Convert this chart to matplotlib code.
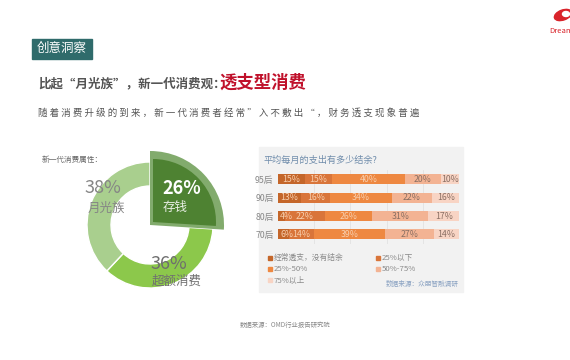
import numpy as np
import matplotlib
matplotlib.use("Agg")
from matplotlib import pyplot as plt
from matplotlib.patches import Wedge, Rectangle, Ellipse

plt.rcParams['font.family'] = ['Noto Sans CJK SC', 'DejaVu Sans']

# donut data
donut_labels = ['存钱', '超额消费', '月光族']
donut_shares = [26, 36, 38]

# stacked bar data
groups = ['95后', '90后', '80后', '70后']
series = ['经常透支，没有结余', '25%以下', '25%-50%', '50%-75%', '75%以上']
vals_95 = [15, 15, 40, 20, 10]
vals_90 = [13, 16, 34, 22, 16]
vals_80 = [4, 22, 26, 31, 17]
vals_70 = [6, 14, 39, 27, 14]
bar_colors = ['#c4662a', '#d9753a', '#ee8841', '#f3b393', '#f8d4c4']

fig = plt.figure(figsize=(5.7, 3.6), dpi=100)
ax = fig.add_axes([0, 0, 1, 1])
ax.set_xlim(0, 570)
ax.set_ylim(360, 0)
ax.axis('off')

# tag box
ax.add_patch(Rectangle((32, 39), 60, 19.5, color='#2f6b6b'))
ax.text(62, 48.5, '创意洞察', color='white', fontsize=9, ha='center', va='center')

# logo
ax.add_patch(Ellipse((563, 15), 18, 10, angle=-20, color='#d9242b'))
ax.add_patch(Ellipse((566, 14), 7, 5, color='white'))
ax.text(549, 31, 'Dream', color='#d9242b', fontsize=5.5, va='center', ha='left')

# titles
ax.text(38, 84, '比起“月光族”，新一代消费观：', color='#555555', fontsize=9,
        fontweight='bold', va='center', ha='left')
ax.text(219, 83, '透支型消费', color='#c0112b', fontsize=12.5, fontweight='bold',
        va='center', ha='left')
ax.text(38, 113, '随 着 消 费 升 级 的 到 来 ， 新 一 代 消 费 者 经 常 ” 入 不 敷 出 “ ， 财 务 透 支 现 象 普 遍',
        color='#555555', fontsize=6.8, va='center', ha='left')

# donut
ax.text(42, 160, '新一代消费属性：', color='#666666', fontsize=5.5, va='center')
cx, cy, R, r = 150, 225, 63, 39
ring_colors = ['#4f8233', '#8cc84b', '#a9cf8e']
start = 90
angles = []
for share in donut_shares:
    end = start - share * 3.6
    angles.append((end, start))
    start = end
# rings for the two flat slices (y axis inverted, so flip angles)
for (a0, a1), col in zip(angles[1:], ring_colors[1:]):
    ax.add_patch(Wedge((cx, cy), R, -a1, -a0, width=R - r, facecolor=col,
                       edgecolor='white', linewidth=1))
# highlighted slice
a0, a1 = angles[0]
ax.add_patch(Wedge((cx, cy), 74, -a1, -a0, facecolor='#82ab6d', edgecolor='none'))
ax.add_patch(Wedge((cx + 3, cy - 3), 63, -a1, -a0, facecolor='#4e8232', edgecolor='none'))

ax.text(103, 188, f'{donut_shares[2]}%', color='#858585', fontsize=13, ha='center', va='center')
ax.text(106, 208, donut_labels[2], color='#858585', fontsize=9, ha='center', va='center')
ax.text(182, 188, f'{donut_shares[0]}%', color='white', fontsize=13, fontweight='bold',
        ha='center', va='center')
ax.text(175, 208, donut_labels[0], color='#e8eee4', fontsize=9, ha='center', va='center')
ax.text(169, 264, f'{donut_shares[1]}%', color='#6e6e6e', fontsize=13, ha='center', va='center')
ax.text(177, 281, donut_labels[1], color='#707070', fontsize=9, ha='center', va='center')

# bar panel
ax.add_patch(Rectangle((259, 147), 204, 145, color='#f2f2f2'))
ax.text(263, 160, '平均每月的支出有多少结余?', color='#6f8cab', fontsize=6.6, va='center')

bax = fig.add_axes([277.7 / 570, (360 - 243.5) / 360, 181.5 / 570, 73.3 / 360])
bax.set_facecolor('none')
data = np.array([vals_95, vals_90, vals_80, vals_70], dtype=float)
ypos = np.arange(len(groups))
left = np.zeros(len(groups))
for j, name in enumerate(series):
    bax.barh(ypos, data[:, j], left=left, height=0.56, color=bar_colors[j], zorder=2)
    for i in range(len(groups)):
        xc = max(left[i] + data[i, j] / 2, left[i] + 5)
        tc = '#f8cfae' if j < 3 else '#8a6f63'
        bax.text(xc, ypos[i], f'{int(data[i, j])}%', color=tc, fontsize=6.3,
                 ha='center', va='center', zorder=3)
    left += data[:, j]
bax.set_xlim(0, 100)
bax.set_ylim(len(groups) - 0.5, -0.5)
for g in [20, 40, 60, 80]:
    bax.axvline(g, color='#e2e2e2', lw=0.6, zorder=1)
for s in bax.spines.values():
    s.set_visible(False)
bax.set_xticks([])
bax.set_yticks(ypos)
bax.set_yticklabels(groups, color='#888888', fontsize=6.3)
bax.tick_params(axis='y', length=0, pad=3)

# legend
leg_pos = [(270, 258), (378, 258), (270, 269), (378, 269), (270, 280)]
for (lx, ly), name, col in zip(leg_pos, series, bar_colors):
    ax.add_patch(Rectangle((lx - 1.8, ly - 1.8), 3.6, 3.6, color=col))
    ax.text(lx + 4, ly, name, color='#8a8a8a', fontsize=5.6, va='center', ha='left')
ax.text(459, 284, '数据来源：众朋智融调研', color='#8aa2c2', fontsize=4.8, va='center', ha='right')

ax.text(285, 325, '数据来源：OMD行业报告研究院', color='#888888', fontsize=4.6, va='center', ha='center')

fig.savefig('out.png', dpi=100, facecolor='white')
